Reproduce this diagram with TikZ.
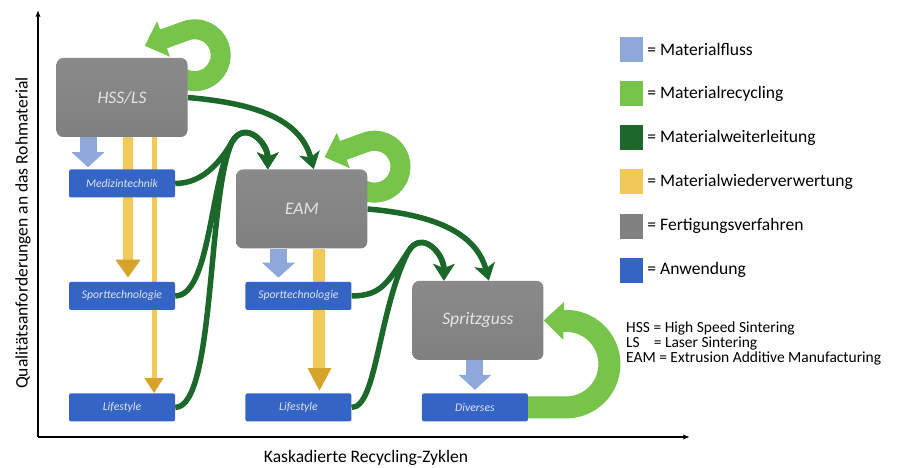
\documentclass[tikz,border=0pt]{standalone}
\usepackage{fontspec}
\setmainfont{Carlito}
\usetikzlibrary{positioning,arrows.meta,backgrounds}

\definecolor{flowblue}{RGB}{142,168,220}
\definecolor{recycgreen}{RGB}{118,196,74}
\definecolor{fwdgreen}{RGB}{28,104,42}
\definecolor{reuseyellow}{RGB}{242,200,88}
\definecolor{reusedark}{RGB}{214,164,42}
\definecolor{procgray}{RGB}{128,128,128}
\definecolor{proctop}{RGB}{138,138,138}
\definecolor{procmid}{RGB}{108,108,108}
\definecolor{procbot}{RGB}{128,128,128}
\definecolor{appblue}{RGB}{52,100,196}

\begin{document}
\begin{tikzpicture}[x=0.3mm,y=0.3mm,
  proc/.style={rounded corners=2mm, minimum width=39.3mm, minimum height=23.7mm, inner sep=0pt,
    top color=proctop, middle color=procmid, bottom color=procbot,
    text={rgb,255:red,228;green,228;blue,228}, font=\fontsize{15}{18}\selectfont\itshape},
  app/.style={rounded corners=0.6mm, fill=appblue, minimum width=31.8mm, minimum height=8.4mm, inner sep=0pt,
    text={rgb,255:red,222;green,228;blue,242}, font=\fontsize{10}{12}\selectfont\itshape},
  flow/.style={draw=flowblue, line width=5.1mm, -{Triangle[width=9.6mm,length=4.5mm]}},
  reuse/.style={draw=reuseyellow},
  fwd/.style={draw=fwdgreen, line width=1.65mm, -{Stealth[width=6.3mm,length=5mm,inset=1.3mm]}},
  recyc/.style={draw=recycgreen, line width=6mm, line join=round, -{Triangle[width=11mm,length=6mm]}},
  leg/.style={minimum width=6.9mm, minimum height=7.5mm, inner sep=0pt},
  legtext/.style={inner sep=0pt, font=\fontsize{15}{18}\selectfont},
  axis/.style={line width=0.4mm, -{Latex[length=2mm,width=1.6mm]}},
  axlabel/.style={font=\fontsize{15}{18}\selectfont}]

  \useasboundingbox (0,0) rectangle (904,468);

  \node[proc] (proc_hss) at (122,370.5) {HSS/LS};
  \node[app, below=9.6mm of proc_hss] (app_med) {Medizintechnik};
  \node[app, below=25.2mm of app_med] (app_sport1) {Sporttechnologie};
  \node[app, below=24.9mm of app_sport1] (app_life1) {Lifestyle};

  \node[app, right=21mm of app_sport1] (app_sport2) {Sporttechnologie};
  \node[app, right=21mm of app_life1] (app_life2) {Lifestyle};
  \node[app, right=21mm of app_life2] (app_div) {Diverses};

  \node[proc, above=9.9mm of app_sport2, xshift=1mm] (proc_eam) {EAM};
  \node[proc, above=9.9mm of app_div, xshift=0.9mm] (proc_sg) {Spritzguss};

  %==================================================

  \coordinate (hook_l) at (232,326);
  \coordinate (hook_r) at (408,216);

  \begin{scope}[on background layer]
    \draw[recyc] ([shift={(-4,-21)}]proc_hss.north east) arc[start angle=-115, end angle=115, radius=26]
      -- ([shift={(-43,12)}]proc_hss.north east);
    \draw[recyc] ([shift={(-4,-21)}]proc_eam.north east) arc[start angle=-115, end angle=115, radius=26]
      -- ([shift={(-43,12)}]proc_eam.north east);
    \draw[recyc, line width=6.6mm, -{Triangle[width=11mm,length=6mm]}] (app_div.east) -- ++(38,0)
      arc[start angle=-90, end angle=90, radius=43.25] -- (proc_sg.east);

    \draw[reuse, line width=3mm, shorten >=1.2mm, -{Triangle[width=7.2mm,length=5.4mm,color=reusedark]}]
      ([xshift=1.8mm]proc_hss.south) -- ([xshift=1.8mm]app_sport1.north);
    \draw[reuse, line width=1.5mm, -{Triangle[width=5.4mm,length=4.5mm,color=reusedark]}]
      ([xshift=9.6mm]proc_hss.south) -- ([xshift=9.6mm]app_life1.north);
    \draw[reuse, line width=3.6mm, shorten >=0.6mm, -{Triangle[width=6.6mm,length=6.9mm,color=reusedark]}]
      ([xshift=6.3mm]app_life2.north |- proc_eam.south) -- ([xshift=6.3mm]app_life2.north);

    \draw[flow, shorten >=0.6mm] ([xshift=-10.2mm]proc_hss.south) -- ([xshift=-10.2mm]app_med.north);
    \draw[flow, shorten >=1.2mm] ([xshift=-6mm]app_sport2.north |- proc_eam.south) -- ([xshift=-6mm]app_sport2.north);
    \draw[flow, shorten >=1mm] (app_div.north |- proc_sg.south) -- (app_div.north);

    \draw[fwd] (proc_hss.east) to[out=-5,in=105] ([xshift=3.6mm]proc_eam.north);
    \draw[fwd] (proc_eam.east) to[out=-5,in=105] ([xshift=3.3mm]proc_sg.north);

    \draw[fwd] (app_med.east) .. controls +(25,0) and +(-14,-24) .. (hook_l)
      to[out=60,in=90,looseness=1.5] ([xshift=-10.2mm]proc_eam.north);
    \draw[fwd] (app_sport1.east) .. controls +(35,0) and +(-22,-40) .. (hook_l)
      to[out=60,in=90,looseness=1.5] ([xshift=-10.2mm]proc_eam.north);
    \draw[fwd] (app_life1.east) .. controls +(40,0) and +(-25,-55) .. (hook_l)
      to[out=60,in=90,looseness=1.5] ([xshift=-10.2mm]proc_eam.north);

    \draw[fwd] (app_sport2.east) .. controls +(30,0) and +(-20,-30) .. (hook_r)
      to[out=60,in=90,looseness=1.5] ([xshift=-10.2mm]proc_sg.north);
    \draw[fwd] (app_life2.east) .. controls +(25,0) and +(-30,-60) .. (hook_r)
      to[out=60,in=90,looseness=1.5] ([xshift=-10.2mm]proc_sg.north);
  \end{scope}

  %==================================================

  \coordinate (origin) at (38,31);
  \coordinate (y_top) at (38,458);
  \coordinate (x_end) at (690,31);
  \draw[axis] (origin) -- (y_top);
  \draw[axis] (origin) -- (x_end);

  \node[axlabel, rotate=90] (y_label) at (23,235) {Qualitätsanforderungen an das Rohmaterial};
  \node[axlabel] (x_label) at (366,10) {Kaskadierte Recycling-Zyklen};

  %==================================================

  \node[leg, fill=flowblue] (leg_flow) at (631.5,418.5) {};
  \node[leg, fill=recycgreen, below=5.6mm of leg_flow] (leg_recyc) {};
  \node[leg, fill=fwdgreen, below=5.6mm of leg_recyc] (leg_fwd) {};
  \node[leg, fill=reuseyellow, below=5.6mm of leg_fwd] (leg_reuse) {};
  \node[leg, fill=procgray, below=5.6mm of leg_reuse] (leg_proc) {};
  \node[leg, fill=appblue, below=5.6mm of leg_proc] (leg_app) {};

  \node[legtext, right=1.2mm of leg_flow] (txt_flow) {= Materialfluss};
  \node[legtext, right=1.2mm of leg_recyc] (txt_recyc) {= Materialrecycling};
  \node[legtext, right=1.2mm of leg_fwd] (txt_fwd) {= Materialweiterleitung};
  \node[legtext, right=1.2mm of leg_reuse] (txt_reuse) {= Materialwiederverwertung};
  \node[legtext, right=1.2mm of leg_proc] (txt_proc) {= Fertigungsverfahren};
  \node[legtext, right=1.2mm of leg_app] (txt_app) {= Anwendung};

  \node[anchor=west, align=left, inner sep=0pt, font=\fontsize{13.2}{12.8}\selectfont] (abbr) at (626,125)
    {HSS\ = High Speed Sintering\\LS\ \ \ \ = Laser Sintering\\EAM = Extrusion Additive Manufacturing};

\end{tikzpicture}
\end{document}
